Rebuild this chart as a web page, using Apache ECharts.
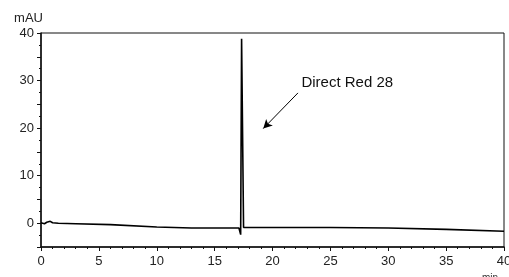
<!DOCTYPE html>
<html>
<head>
<meta charset="utf-8">
<script src="https://cdn.jsdelivr.net/npm/echarts@6/dist/echarts.min.js"></script>
<style>
  html, body { margin: 0; padding: 0; background: #fff; }
  #chart { width: 509px; height: 277px; }
</style>
</head>
<body>
<div id="chart"></div>
<script>
// retention time (min) and absorbance (mAU)
var times = [0, 0.3, 0.5, 0.6, 0.8, 1.0, 1.5, 3, 6, 10, 13, 17.1, 17.25, 17.33, 17.5, 20, 25, 30, 35, 40];
var signal = [0.1, -0.1, 0.2, 0.1, 0.4, 0.1, 0.0, -0.1, -0.3, -0.8, -1.0, -1.0, -2.4, 38.8, -0.9, -0.9, -0.9, -1.0, -1.3, -1.7];

var xTicks = [0, 5, 10, 15, 20, 25, 30, 35, 40];
var yTicks = [0, 10, 20, 30, 40];

// peak label and arrow (data coords)
var peakName = 'Direct Red 28';
var labelAt = [22.5, 29.6];
var arrowFrom = [22.2, 27.4];
var arrowTo = [19.2, 19.9];

var chart = echarts.init(document.getElementById('chart'));

var font = 'Liberation Sans, Arial, sans-serif';
var axisColor = '#111';

chart.setOption({
  animation: false,
  grid: {
    left: 41, right: 5, top: 33, bottom: 30,
    outerBoundsMode: 'none',
    containLabel: false,
    show: true, borderColor: axisColor, borderWidth: 1, backgroundColor: '#fff'
  },
  xAxis: {
    type: 'value',
    min: xTicks[0],
    max: xTicks[xTicks.length - 1],
    interval: 5,
    name: 'min',
    nameLocation: 'end',
    nameGap: -22,
    nameTextStyle: { fontFamily: font, fontSize: 10, color: '#333', verticalAlign: 'top', padding: [26, 0, 0, 0] },
    axisLine: { onZero: false, lineStyle: { color: axisColor, width: 1.5 } },
    axisTick: { inside: false, length: 4, lineStyle: { color: axisColor } },
    minorTick: { show: true, splitNumber: 5, length: 2, lineStyle: { color: axisColor } },
    splitLine: { show: false },
    axisLabel: { fontFamily: font, fontSize: 13, color: '#222', margin: 8 }
  },
  yAxis: {
    type: 'value',
    min: -5,
    max: yTicks[yTicks.length - 1],
    interval: 5,
    name: 'mAU',
    nameLocation: 'end',
    nameGap: 8,
    nameTextStyle: { fontFamily: font, fontSize: 13, color: '#222', align: 'right', padding: [0, -2, 0, 0] },
    axisLine: { onZero: false, lineStyle: { color: axisColor, width: 1.5 } },
    axisTick: { inside: false, length: 4, lineStyle: { color: axisColor } },
    minorTick: { show: true, splitNumber: 2, length: 2, lineStyle: { color: axisColor } },
    splitLine: { show: false },
    axisLabel: {
      fontFamily: font, fontSize: 13, color: '#222', margin: 7,
      formatter: function (v) { return yTicks.indexOf(v) >= 0 ? String(v) : ''; }
    }
  },
  series: [{
    type: 'line',
    data: times.map(function (t, i) { return [t, signal[i]]; }),
    showSymbol: false,
    lineStyle: { color: '#000', width: 1.6 },
    markLine: {
      silent: true,
      symbol: ['none', 'arrow'],
      symbolSize: [7, 9],
      label: { show: false },
      lineStyle: { color: '#000', width: 1, type: 'solid' },
      data: [[{ coord: arrowFrom }, { coord: arrowTo }]]
    },
    markPoint: {
      silent: true,
      symbolSize: 0,
      data: [{ coord: labelAt }],
      label: {
        show: true, position: 'right', distance: 0,
        formatter: peakName,
        fontFamily: font, fontSize: 15, color: '#111'
      }
    }
  }]
});
</script>
</body>
</html>
